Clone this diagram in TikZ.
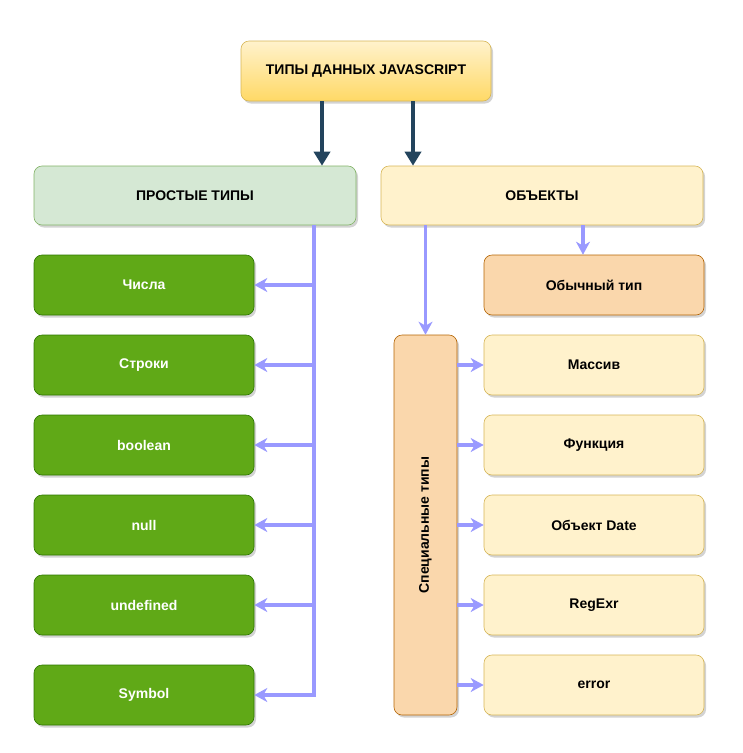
\documentclass[tikz,border=0pt]{standalone}
\usepackage{fontspec}
\setmainfont{Liberation Sans}
\usetikzlibrary{arrows.meta,shadows}
\definecolor{titlebot}{HTML}{FFD966}
\definecolor{titletop}{HTML}{FFF2CC}
\definecolor{yelline}{HTML}{D6B656}
\definecolor{palegreen}{HTML}{D5E8D4}
\definecolor{palegreenline}{HTML}{82B366}
\definecolor{darkgreen}{HTML}{60A917}
\definecolor{darkgreenline}{HTML}{2D7600}
\definecolor{peach}{HTML}{FAD7AC}
\definecolor{peachline}{HTML}{B46504}
\definecolor{navy}{HTML}{23445D}
\definecolor{lilac}{HTML}{9999FF}
\begin{document}
\begin{tikzpicture}[x=1pt,y=-1pt,
  box/.style={rounded corners=8pt,draw,line width=0.6pt,align=center,
    font=\fontsize{14}{16}\selectfont\bfseries,
    drop shadow={opacity=0.35,shadow xshift=2pt,shadow yshift=-2.5pt}},
  greenbox/.style={box,fill=darkgreen,draw=darkgreenline,text=white,minimum width=220pt,minimum height=60pt},
  yelbox/.style={box,fill=titletop,draw=yelline,minimum width=220pt,minimum height=60pt},
  peachbox/.style={box,fill=peach,draw=peachline},
  darkarrow/.style={draw=navy,line width=4pt,-{Triangle[length=14pt,width=16pt]}},
  blueline/.style={draw=lilac,line width=3.5pt},
  bluearrow/.style={blueline,-{Stealth[length=13pt,width=14pt,inset=4pt]}}]
\useasboundingbox (0,0) rectangle (743,753);

% Title
\node[box,top color=titletop,bottom color=titlebot,draw=yelline,minimum width=250pt,minimum height=60pt] (title) at (366,71) {ТИПЫ ДАННЫХ JAVASCRIPT};

% Two main groups
\node[box,fill=palegreen,draw=palegreenline,minimum width=322pt,minimum height=59pt] (prost) at (195,195.5) {ПРОСТЫЕ ТИПЫ};
\node[yelbox,minimum width=322pt,minimum height=59pt] (obj) at (542,195.5) {ОБЪЕКТЫ};

\draw[darkarrow] ([xshift=-44pt]title.south) -- ([xshift=-44pt]title.south |- prost.north);
\draw[darkarrow] ([xshift=47pt]title.south) -- ([xshift=47pt]title.south |- obj.north);

% Simple types
\node[greenbox] (chisla) at (144,285) {Числа};
\node[greenbox] (stroki) at (144,365) {Строки};
\node[greenbox] (bool) at (144,445) {boolean};
\node[greenbox] (nul) at (144,525) {null};
\node[greenbox] (undef) at (144,605) {undefined};
\node[greenbox] (sym) at (144,695) {Symbol};

\coordinate (trunk) at ([xshift=119pt]prost.south);
\draw[bluearrow] (trunk) |- (sym.east);
\foreach \n in {chisla,stroki,bool,nul,undef}
  \draw[bluearrow] (\n.east -| trunk) -- (\n.east);

% Objects
\node[peachbox,minimum width=220pt,minimum height=60pt] (obych) at (594,285) {Обычный тип};
\node[peachbox,minimum width=63pt,minimum height=380pt] (spec) at (425.5,525) {};
\node[rotate=90,font=\fontsize{14}{16}\selectfont\bfseries] (spectext) at (spec.center) {Специальные типы};

\draw[bluearrow] ([xshift=-11pt]obych.north |- obj.south) -- ([xshift=-11pt]obych.north);
\draw[bluearrow] (spec.north |- obj.south) -- (spec.north);

\node[yelbox] (massiv) at (594,365) {Массив};
\node[yelbox] (func) at (594,445) {Функция};
\node[yelbox] (date) at (594,525) {Объект Date};
\node[yelbox] (regexr) at (594,605) {RegExr};
\node[yelbox] (err) at (594,685) {error};

\foreach \n in {massiv,func,date,regexr,err}
  \draw[bluearrow] (\n.west -| spec.east) -- (\n.west);
\end{tikzpicture}
\end{document}
